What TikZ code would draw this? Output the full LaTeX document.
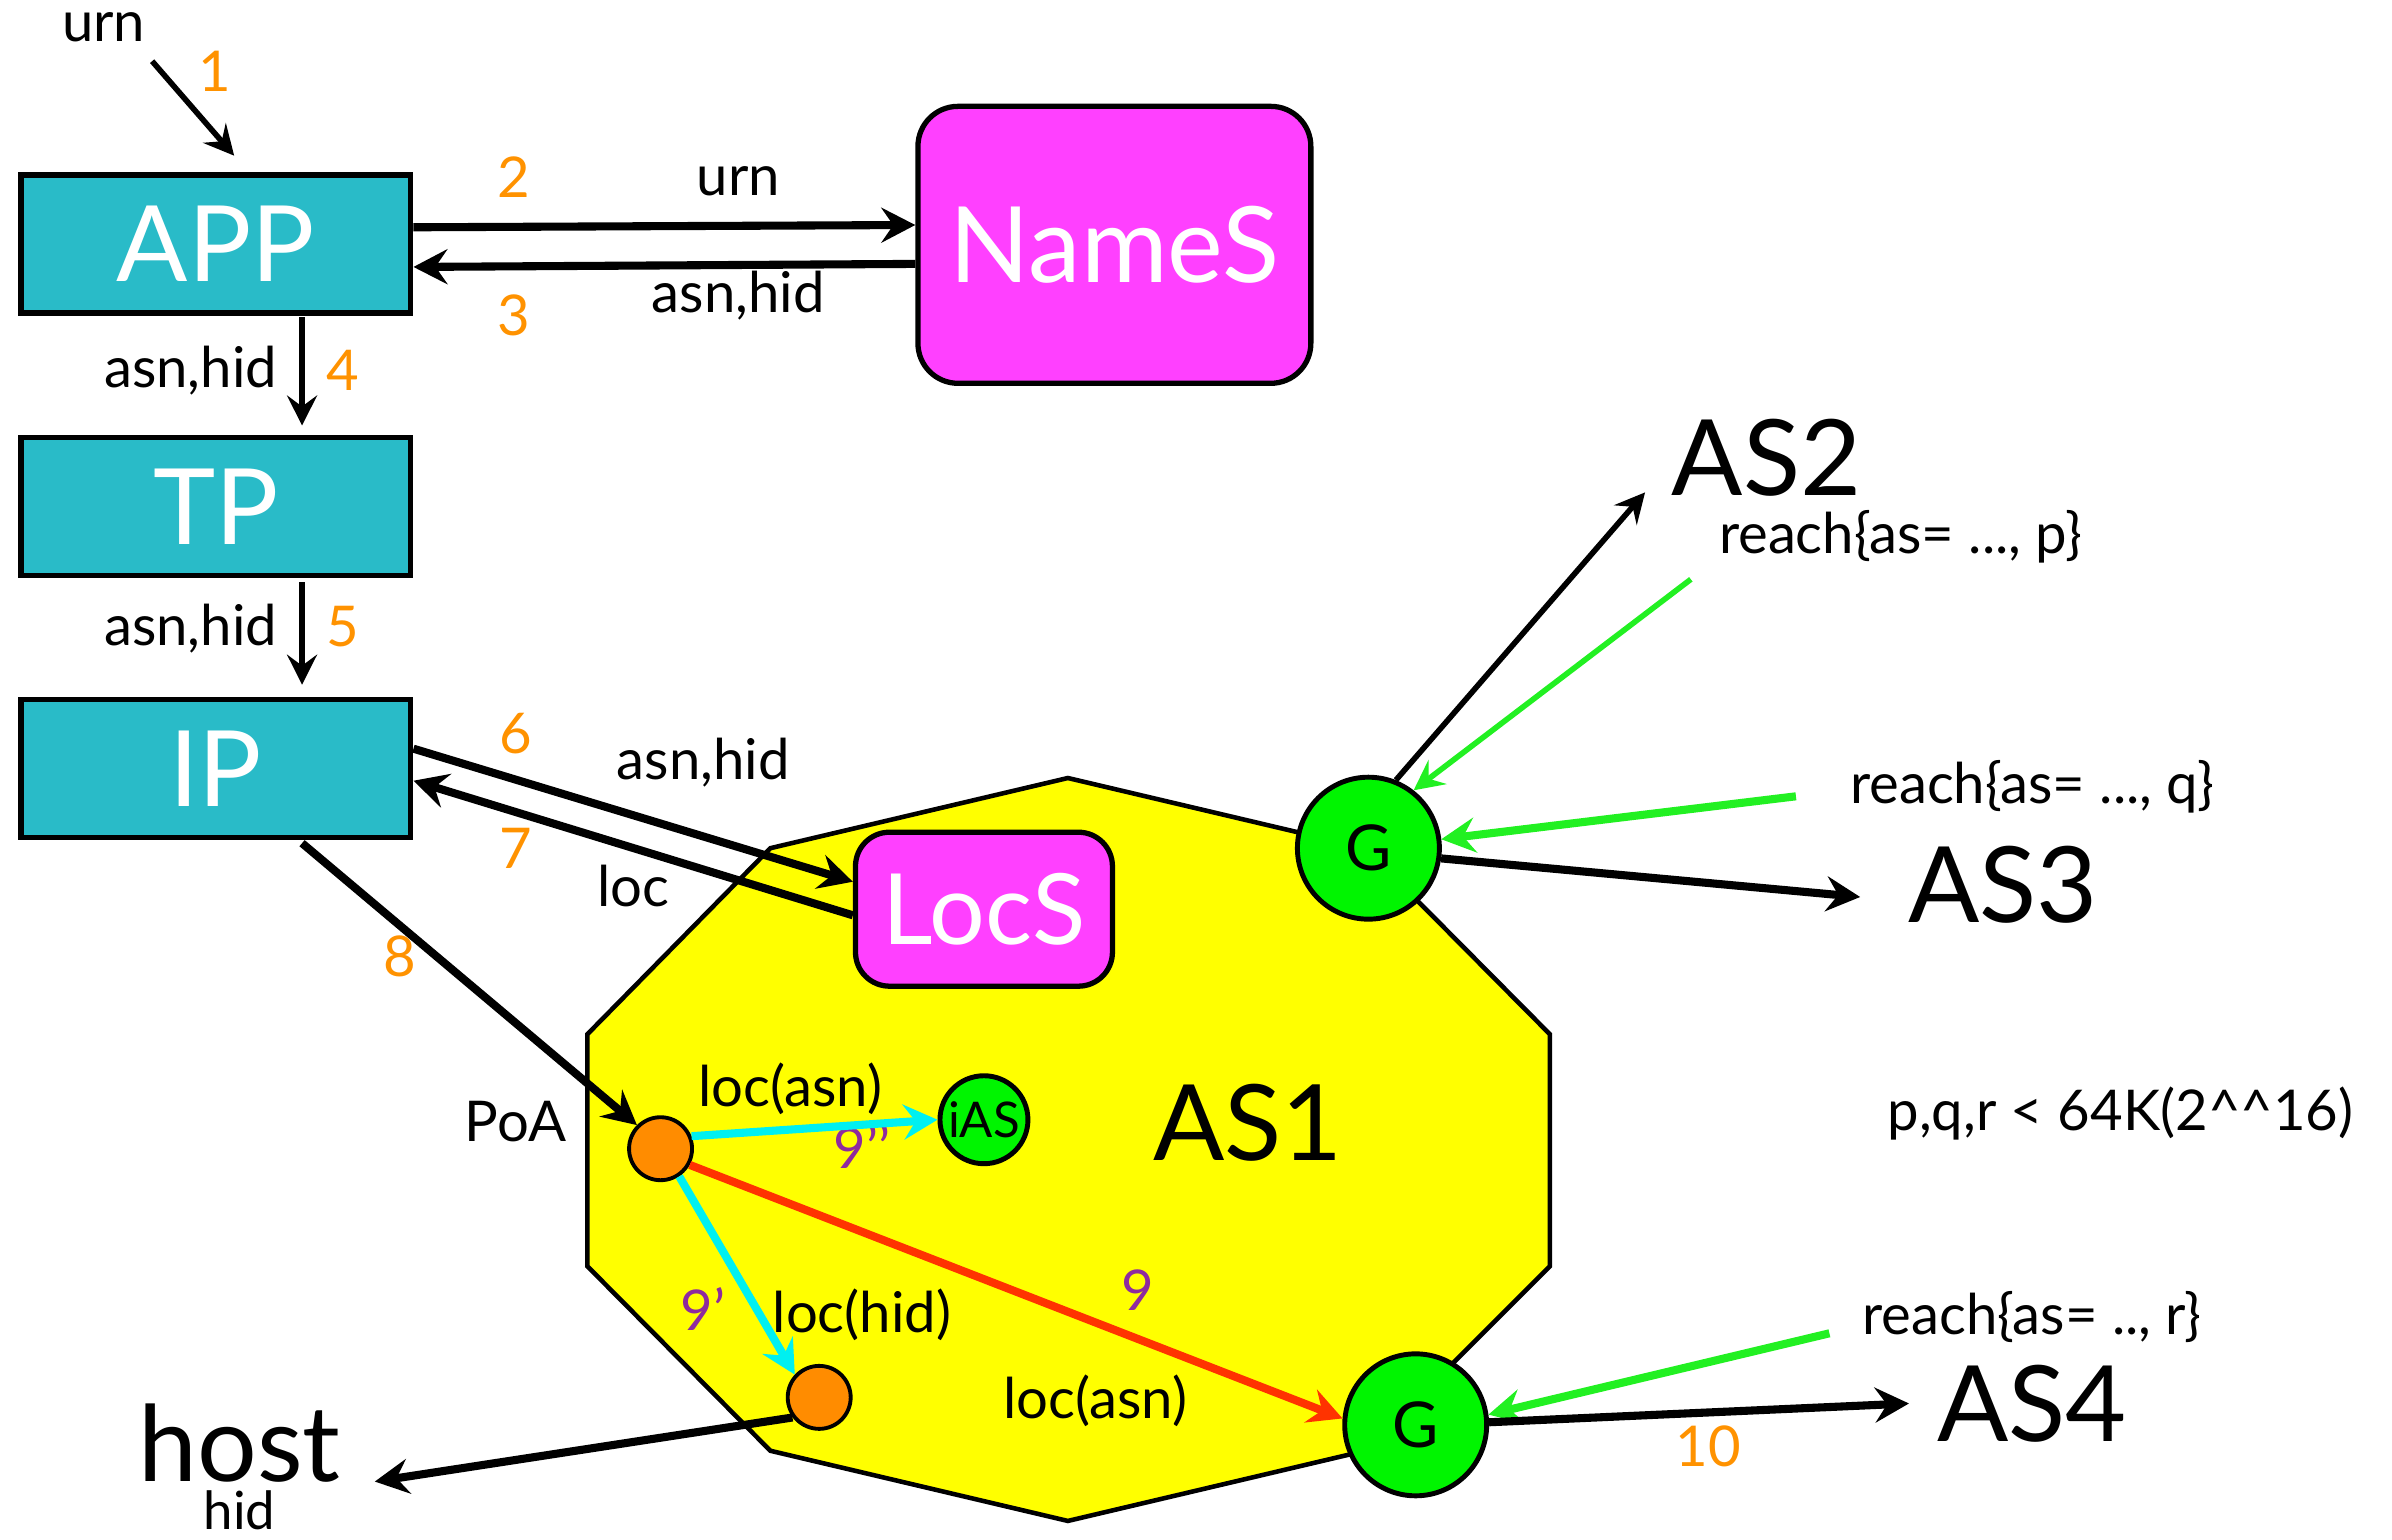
\documentclass[tikz,border=0pt]{standalone}
\usepackage{fontspec}
\setmainfont{Lato}
\usetikzlibrary{positioning,arrows.meta,calc}

\definecolor{layerteal}{HTML}{29BBC8}
\definecolor{servmagenta}{HTML}{FF40FF}
\definecolor{gwgreen}{HTML}{00F500}
\definecolor{reachgreen}{HTML}{22F022}
\definecolor{asyellow}{HTML}{FFFF00}
\definecolor{poaorange}{HTML}{FF8C00}
\definecolor{numorange}{HTML}{FF9200}
\definecolor{stepviolet}{HTML}{8E2A9E}
\definecolor{lookupcyan}{HTML}{00F0F0}
\definecolor{routered}{HTML}{FF3300}

\begin{document}
\begin{tikzpicture}[x=0.015255cm, y=-0.015255cm, node distance=1.19cm,
            layerbox/.style={rectangle, draw=black, fill=layerteal, line width=1.5pt, minimum width=3.9cm, minimum height=1.38cm, text=white, font=\fontsize{30}{30}\selectfont},
            servbox/.style={rectangle, rounded corners=0.4cm, draw=black, fill=servmagenta, line width=1.5pt, text=white},
            gwnode/.style={circle, draw=black, fill=gwgreen, line width=1.4pt, minimum size=1.42cm, inner sep=0pt, font=\fontsize{18}{18}\selectfont},
            dotnode/.style={circle, draw=black, fill=poaorange, line width=1.1pt, minimum size=0.63cm, inner sep=0pt},
            lbl/.style={inner sep=0pt, font=\fontsize{16}{19}\selectfont},
            num/.style={lbl, text=numorange},
            stepnum/.style={lbl, text=stepviolet},
            bigtxt/.style={inner sep=0pt, font=\fontsize{30}{30}\selectfont},
            arr/.style={-{Stealth[length=3.4mm, width=3.5mm, inset=1.2mm]}, line width=2.3pt},
            thinarr/.style={-{Stealth[length=3mm, width=3mm, inset=1.1mm]}, line width=1.6pt},
        ]
        \useasboundingbox (0,0) rectangle (1568,1009);

        %AS1 region
        \draw[fill=asyellow, line width=1.3pt] (700,510) -- (505,556) -- (385,678) -- (385,830) -- (505,951)
            -- (700,997) -- (895,951) -- (1016,830) -- (1016,678) -- (895,556) -- cycle;

        %Nodes
        \node[layerbox]     (APP)   at (141.5,160)          {APP};
        \node[layerbox]     (TP)    [below=of APP]          {TP};
        \node[layerbox]     (IP)    [below=of TP]           {IP};
        \node[servbox, minimum width=3.93cm, minimum height=2.77cm, font=\fontsize{30}{30}\selectfont]
                            (NameS) at (730.5,160.5)        {NameS};
        \node[servbox, minimum width=2.57cm, minimum height=1.54cm, rounded corners=0.34cm, font=\fontsize{28}{28}\selectfont]
                            (LocS)  at (645,596)            {LocS};
        \node[gwnode]       (G1)    at (897,556)            {G};
        \node[gwnode]       (G2)    at (928,934)            {G};
        \node[gwnode, minimum size=0.88cm, font=\fontsize{14}{14}\selectfont]
                            (iAS)   at (645,734)            {iAS};
        \node[dotnode]      (PoA)   at (433,753)            {};
        \node[dotnode]      (HostP) at (537,916)            {};

        \node[bigtxt]       (AS1)   at (818,736)            {AS1};
        \node[bigtxt]       (AS2)   at (1158,300)           {AS2};
        \node[bigtxt]       (AS3)   at (1313,580)           {AS3};
        \node[bigtxt]       (AS4)   at (1332,920)           {AS4};
        \node[bigtxt]       (host)  at (157,946)            {host};
        \node[lbl, font=\fontsize{15}{15}\selectfont]
                            (hid)   [below=2pt of host]     {hid};

        \node[lbl]          (urn)   at (68,18)              {urn};
        \node[lbl]          (reachp) at (1246,352)          {reach\{as= ..., p\}};
        \node[lbl]          (reachq) at (1332,516)          {reach\{as= ..., q\}};
        \node[lbl]          (reachr) at (1332,863)          {reach\{as= .., r\}};
        \node[lbl]          (bound) at (1390,730)           {p,q,r < 64K(2\textasciicircum\textasciicircum16)};

        %Labels
        \node[lbl] at (484,119) {urn};
        \node[lbl] at (484,194) {asn,hid};
        \node[lbl] at (125,243) {asn,hid};
        \node[lbl] at (125,412) {asn,hid};
        \node[lbl] at (461,500) {asn,hid};
        \node[lbl] at (415,581) {loc};
        \node[lbl] at (338,735) {PoA};
        \node[lbl] at (518,714) {loc(asn)};
        \node[lbl] at (565,862) {loc(hid)};
        \node[lbl] at (718,918) {loc(asn)};

        \node[num] at (141,47)   {1};
        \node[num] at (337,116)  {2};
        \node[num] at (337,207)  {3};
        \node[num] at (225,243)  {4};
        \node[num] at (225,411)  {5};
        \node[num] at (338,481)  {6};
        \node[num] at (338,556)  {7};
        \node[num] at (262,627)  {8};
        \node[num] at (1120,948) {10};
        \node[stepnum] at (565,752) {9’’};
        \node[stepnum] at (461,858) {9’};
        \node[stepnum] at (746,846) {9};

        %Lines
        \draw[thinarr] ($(urn.south east)+(4,12)$) -- ($(APP.north)+(12,-11)$);
        \draw[arr] ($(APP.east)+(0,-11)$) -- ($(NameS.west)+(0,-13)$);
        \draw[arr] ($(NameS.west)+(0,12.5)$) -- ($(APP.east)+(0,15)$);
        \draw[thinarr] ($(APP.south)+(56.5,1)$) -- ($(TP.north)+(56.5,-6)$);
        \draw[thinarr] ($(TP.south)+(56.5,3)$) -- ($(IP.north)+(56.5,-8)$);
        \draw[arr] ($(IP.east)+(0,-13)$) -- ($(LocS.west)+(0,-18)$);
        \draw[arr] ($(LocS.west)+(0,4)$) -- ($(IP.east)+(0,8)$);
        \draw[arr] ($(IP.south)+(56.5,2)$) -- (PoA.135);
        \draw[arr, lookupcyan] (PoA.22) -- (iAS.west);
        \draw[arr, lookupcyan] (PoA.-56) -- (HostP.137);
        \draw[arr, routered] (PoA.-29) -- (G2.175);
        \draw[arr] (HostP.217) -- ($(host.south east)+(22,-1)$);
        \draw[thinarr] (G1.68) -- ($(AS2.south west)+(-17,-3)$);
        \draw[thinarr, reachgreen] ($(reachp.south west)+(-18,10)$) -- (G1.52);
        \draw[arr, reachgreen] ($(reachq.west)+(-35,6)$) -- (G1.7);
        \draw[arr] (G1.-8) -- ($(AS3.west)+(-31,8)$);
        \draw[arr, reachgreen] ($(reachr.west)+(-21,11)$) -- (G2.8);
        \draw[arr] (G2.2) -- ($(AS4.west)+(-18,0)$);
    \end{tikzpicture}
\end{document}
